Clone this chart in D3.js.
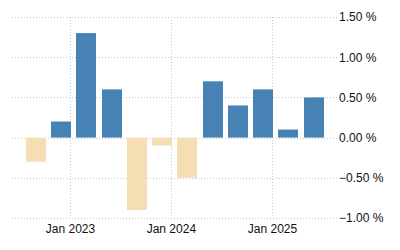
<!DOCTYPE html>
<html>
<head>
<meta charset="utf-8">
<script src="https://cdn.jsdelivr.net/npm/d3@7"></script>
<style>
  body { margin: 0; background: #fff; }
  text { font-family: "Liberation Sans", Arial, sans-serif; font-size: 12px; fill: #111; }
</style>
</head>
<body>
<div id="plot"></div>
<script>
// quarterly values, dated first day of the last month in each quarter
var dates = ["2022-09-01", "2022-12-01", "2023-03-01", "2023-06-01", "2023-09-01", "2023-12-01",
             "2024-03-01", "2024-06-01", "2024-09-01", "2024-12-01", "2025-03-01", "2025-06-01"];
var values = [-0.3, 0.2, 1.3, 0.6, -0.9, -0.1, -0.5, 0.7, 0.4, 0.6, 0.1, 0.5];
var yTicks = [-1, -0.5, 0, 0.5, 1, 1.5];
var xTicks = ["2023-01-01", "2024-01-01", "2025-01-01"];

var parse = d3.timeParse("%Y-%m-%d");
var data = dates.map(function(d, i) {
  return { date: parse(d), value: values[i] };
});

var width = 400, height = 250;
var plot = { left: 12, right: 338, top: 17, bottom: 218 };

// time scale: Jan 2023 -> x 70, Jan 2025 -> x 272
var xScale = d3.scaleTime()
  .domain([parse("2023-01-01"), parse("2025-01-01")])
  .range([70, 272]);

var yScale = d3.scaleLinear()
  .domain([-1, 1.5])
  .range([plot.bottom, plot.top]);

var barW = 20;

var svg = d3.select("#plot").append("svg")
  .attr("width", width)
  .attr("height", height);

// horizontal grid
svg.append("g")
  .selectAll("line")
  .data(yTicks)
  .enter().append("line")
  .attr("x1", plot.left)
  .attr("x2", plot.right)
  .attr("y1", function(d) { return Math.round(yScale(d)) + 0.5; })
  .attr("y2", function(d) { return Math.round(yScale(d)) + 0.5; })
  .attr("stroke", "#c8c8c8")
  .attr("stroke-dasharray", "1,2");

// vertical grid
svg.append("g")
  .selectAll("line")
  .data(xTicks.map(parse))
  .enter().append("line")
  .attr("x1", function(d) { return Math.round(xScale(d)) + 0.5; })
  .attr("x2", function(d) { return Math.round(xScale(d)) + 0.5; })
  .attr("y1", plot.top)
  .attr("y2", plot.bottom)
  .attr("stroke", "#c8c8c8")
  .attr("stroke-dasharray", "1,2");

// bars
svg.append("g")
  .selectAll("rect")
  .data(data)
  .enter().append("rect")
  .attr("x", function(d) { return Math.round(xScale(d.date) - barW / 2); })
  .attr("width", barW)
  .attr("y", function(d) { return yScale(Math.max(0, d.value)); })
  .attr("height", function(d) { return Math.abs(yScale(d.value) - yScale(0)); })
  .attr("fill", function(d) { return d.value >= 0 ? "#4682b4" : "#f5deb3"; });

// y axis labels
var yAxis = d3.axisRight(yScale)
  .tickValues(yTicks)
  .tickSize(0)
  .tickPadding(0)
  .tickFormat(function(d) { return d3.format(".2f")(d) + " %"; });

svg.append("g")
  .attr("class", "y axis")
  .attr("transform", "translate(339,0)")
  .call(yAxis)
  .call(function(g) { g.select(".domain").remove(); })
  .selectAll("text")
  .attr("font-family", null)
  .attr("font-size", null);

// x axis labels
var xAxis = d3.axisBottom(xScale)
  .tickValues(xTicks.map(parse))
  .tickSize(0)
  .tickPadding(0)
  .tickFormat(d3.timeFormat("%b %Y"));

svg.append("g")
  .attr("class", "x axis")
  .attr("transform", "translate(0,224)")
  .call(xAxis)
  .call(function(g) { g.select(".domain").remove(); })
  .selectAll("text")
  .attr("font-family", null)
  .attr("font-size", null);
</script>
</body>
</html>
